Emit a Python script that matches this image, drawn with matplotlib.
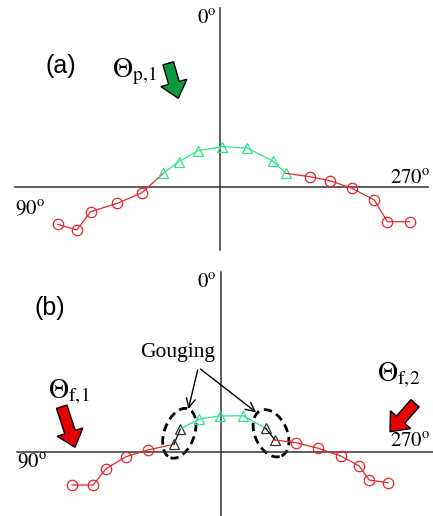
import matplotlib
matplotlib.use("Agg")
import matplotlib.pyplot as plt
from matplotlib.patches import Ellipse, FancyArrow

plt.rcParams['font.family'] = ['Liberation Serif', 'DejaVu Serif']
plt.rcParams['mathtext.fontset'] = 'stix'

# panel (a): positions relative to the axis crossing
a_red_left_x = [-162.3, -143.3, -129.3, -102.7, -78.0]
a_red_left_y = [-37.3, -43.0, -24.7, -16.3, -5.7]
a_green_x = [-56.7, -41.3, -22.0, 2.0, 27.0, 52.7, 65.7]
a_green_y = [13.7, 25.3, 36.3, 40.3, 39.0, 26.0, 13.7]
a_red_right_x = [90.0, 110.0, 132.0, 154.3, 167.3, 189.7]
a_red_right_y = [10.3, 6.3, -1.3, -13.0, -34.7, -34.7]

# panel (b)
b_red_left_x = [-149.0, -127.7, -115.3, -95.0, -73.3]
b_red_left_y = [-33.3, -33.3, -17.3, -5.0, 1.7]
b_gouge_left_x = [-47.0, -40.7]
b_gouge_left_y = [7.4, 22.7]
b_green_x = [-22.0, -1.3, 21.7]
b_green_y = [32.7, 35.7, 36.0]
b_gouge_right_x = [44.7, 54.0]
b_gouge_right_y = [23.4, 11.7]
b_red_right_x = [75.0, 97.3, 119.7, 138.3, 148.0, 167.0]
b_red_right_y = [9.0, 3.4, -4.3, -14.3, -28.3, -31.0]

RED = '#e8262c'
GREEN = '#2ee58a'

fig = plt.figure(figsize=(4.33, 5.16), dpi=100)
ax1 = fig.add_axes([0, 258 / 516, 1, 258 / 516])
ax2 = fig.add_axes([0, 0, 1, 258 / 516])
ax1.set_xlim(-220, 213)
ax1.set_ylim(-71, 187)
ax2.set_xlim(-221, 212)
ax2.set_ylim(-64.3, 193.7)
for ax in (ax1, ax2):
    ax.axis('off')

circ = dict(marker='o', markersize=7.5, markerfacecolor='none', markeredgewidth=0.9)
tri = dict(marker='^', markersize=7.5, markerfacecolor='none', markeredgewidth=0.9)
fat = dict(width=11, head_width=27, head_length=16, length_includes_head=True,
           edgecolor='black', lw=1.0)


def deg(v):
    return r'$\mathrm{%s}^{\mathrm{o}}$' % v


# ---- (a)
ax1.plot([-205, 208], [0, 0], color='#333333', lw=1.1)
ax1.plot([0, 0], [-63, 179], color='#333333', lw=1.1)
ax1.plot(a_red_left_x + a_green_x[:1], a_red_left_y + a_green_y[:1], color=RED, lw=0.9)
ax1.plot(a_red_left_x, a_red_left_y, ls='none', color=RED, **circ)
ax1.plot(a_green_x, a_green_y, color=GREEN, lw=0.9, markeredgecolor=GREEN, **tri)
ax1.plot(a_green_x[-1:] + a_red_right_x, a_green_y[-1:] + a_red_right_y, color=RED, lw=0.9)
ax1.plot(a_red_right_x, a_red_right_y, ls='none', color=RED, **circ)

ax1.text(-3, 167, deg('0'), fontsize=15, ha='right', va='center')
ax1.text(-205, -23, deg('90'), fontsize=15, ha='left', va='center')
ax1.text(210, 7, deg('270'), fontsize=15, ha='right', va='center')
ax1.text(-159, 121, '(a)', family='Liberation Sans', fontsize=18, ha='center', va='center')
ax1.text(-108, 115, r'$\Theta_{\mathrm{p,\!1}}$', fontsize=20, ha='left', va='center')
ax1.add_patch(FancyArrow(-51.7, 123.7, 10, -35, facecolor='#0a9a3c', **fat))

# ---- (b)
ax2.plot([-204, 212], [0, 0], color='#333333', lw=1.1)
ax2.plot([0, 0], [-64, 180], color='#333333', lw=1.1)
ax2.plot(b_red_left_x + b_gouge_left_x[:1], b_red_left_y + b_gouge_left_y[:1], color=RED, lw=0.9)
ax2.plot(b_red_left_x, b_red_left_y, ls='none', color=RED, **circ)
ax2.plot(b_gouge_left_x, b_gouge_left_y, color='black', lw=0.9, markeredgecolor='#333333', **tri)
ax2.plot(b_gouge_left_x[-1:] + b_green_x + b_gouge_right_x[:1],
         b_gouge_left_y[-1:] + b_green_y + b_gouge_right_y[:1], color=GREEN, lw=0.9)
ax2.plot(b_green_x, b_green_y, ls='none', color=GREEN, **tri)
ax2.plot(b_gouge_right_x, b_gouge_right_y, color='black', lw=0.9, markeredgecolor='#333333', **tri)
ax2.plot(b_gouge_right_x[-1:] + b_red_right_x, b_gouge_right_y[-1:] + b_red_right_y, color=RED, lw=0.9)
ax2.plot(b_red_right_x, b_red_right_y, ls='none', color=RED, **circ)

ax2.add_patch(Ellipse((-41.7, 18.4), 30, 52, angle=-20, fill=False, ls=(0, (3, 1.8)), lw=2.0, ec='black'))
ax2.add_patch(Ellipse((50, 18.4), 32, 50, angle=25, fill=False, ls=(0, (3, 1.8)), lw=2.0, ec='black'))

ax2.text(-43.5, 99.7, 'Gouging', fontsize=15.5, ha='center', va='center')
for end in [(-33.3, 40), (37.3, 37.7)]:
    ax2.annotate('', xy=end, xytext=(-22.7, 84.4),
                 arrowprops=dict(arrowstyle='->', color='black', lw=1.0, mutation_scale=16))

ax2.text(-4, 168.7, deg('0'), fontsize=15, ha='right', va='center')
ax2.text(-204, -11.3, deg('90'), fontsize=15, ha='left', va='center')
ax2.text(209, 9, deg('270'), fontsize=15, ha='right', va='center')
ax2.text(-171, 143.7, '(b)', family='Liberation Sans', fontsize=18, ha='center', va='center')
ax2.text(-173, 59.7, r'$\Theta_{\mathrm{f,\!1}}$', fontsize=20, ha='left', va='center')
ax2.text(156, 76.7, r'$\Theta_{\mathrm{f,\!2}}$', fontsize=20, ha='left', va='center')
ax2.add_patch(FancyArrow(-159.3, 45, 13.3, -40.6, facecolor='#e60000', **fat))
ax2.add_patch(FancyArrow(194, 48.4, -25, -28.4, facecolor='#e60000', **fat))

fig.savefig('out.png', dpi=100)
